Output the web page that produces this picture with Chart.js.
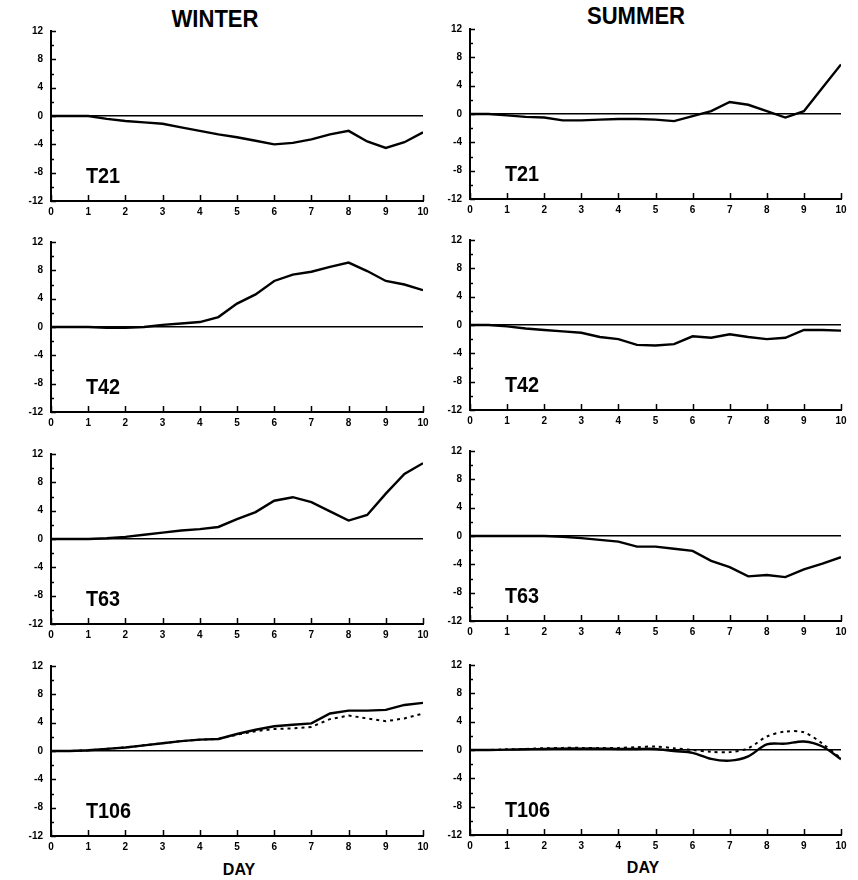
<!DOCTYPE html>
<html>
<head>
<meta charset="utf-8">
<script src="https://cdn.jsdelivr.net/npm/chart.js@4.4.1/dist/chart.umd.min.js"></script>
<style>
  html, body { margin: 0; padding: 0; background: #fff; }
  body { position: relative; width: 858px; height: 880px; overflow: hidden; font-family: "Liberation Sans", Arial, sans-serif; color: #000; }
  canvas { position: absolute; }
  .title { position: absolute; font-size: 24px; line-height: 24px; font-weight: bold; transform: translateX(-50%) scaleX(0.92); white-space: nowrap; }
  .day { position: absolute; font-size: 16px; line-height: 16px; font-weight: bold; transform: translateX(-50%); }
</style>
</head>
<body>
<div class="title" style="left:215px;top:7px">WINTER</div>
<div class="title" style="left:636px;top:4px">SUMMER</div>
<div class="day" style="left:239px;top:862px">DAY</div>
<div class="day" style="left:643px;top:860px">DAY</div>

<script>
/* ---- data (every half day) ---- */
const DAYS = [0, 0.5, 1, 1.5, 2, 2.5, 3, 3.5, 4, 4.5, 5, 5.5, 6, 6.5, 7, 7.5, 8, 8.5, 9, 9.5, 10];
const Y_TICKS = [-12, -8, -4, 0, 4, 8, 12];
const X_TICKS = [0, 1, 2, 3, 4, 5, 6, 7, 8, 9, 10];

const WINTER_T21 = [0, 0, 0, -0.4, -0.7, -0.9, -1.1, -1.6, -2.1, -2.6, -3.0, -3.5, -4.0, -3.8, -3.3, -2.6, -2.1, -3.6, -4.5, -3.7, -2.3];
const SUMMER_T21 = [0, 0, -0.2, -0.4, -0.5, -0.9, -0.9, -0.8, -0.7, -0.7, -0.8, -1.0, -0.3, 0.4, 1.7, 1.3, 0.4, -0.5, 0.4, 3.7, 7.0];
const WINTER_T42 = [0, 0, 0, -0.1, -0.1, 0, 0.3, 0.5, 0.7, 1.4, 3.3, 4.6, 6.5, 7.4, 7.8, 8.5, 9.1, 7.9, 6.5, 6.0, 5.2];
const SUMMER_T42 = [0, 0, -0.2, -0.5, -0.7, -0.9, -1.1, -1.7, -2.0, -2.8, -2.9, -2.7, -1.6, -1.8, -1.3, -1.7, -2.0, -1.8, -0.7, -0.7, -0.8];
const WINTER_T63 = [0, 0, 0, 0.1, 0.3, 0.6, 0.9, 1.2, 1.4, 1.7, 2.8, 3.8, 5.4, 5.9, 5.2, 3.9, 2.6, 3.4, 6.4, 9.2, 10.7];
const SUMMER_T63 = [0, 0, 0, 0, 0, -0.1, -0.3, -0.55, -0.8, -1.5, -1.5, -1.8, -2.1, -3.5, -4.4, -5.7, -5.5, -5.8, -4.7, -3.9, -3.0];
const WINTER_T106 = [0, 0, 0.1, 0.3, 0.5, 0.8, 1.1, 1.4, 1.6, 1.7, 2.4, 3.0, 3.5, 3.7, 3.9, 5.3, 5.7, 5.7, 5.8, 6.5, 6.8];
const WINTER_T106_DOT = [0, 0, 0.1, 0.3, 0.5, 0.8, 1.1, 1.4, 1.6, 1.7, 2.3, 2.8, 3.1, 3.2, 3.4, 4.5, 5.0, 4.6, 4.2, 4.6, 5.3];
const SUMMER_T106 = [0, 0, 0.05, 0.1, 0.15, 0.2, 0.2, 0.2, 0.15, 0.15, 0.15, -0.15, -0.4, -1.25, -1.5, -0.9, 0.8, 0.9, 1.2, 0.5, -1.3];
const SUMMER_T106_DOT = [0, 0, 0.1, 0.15, 0.25, 0.3, 0.3, 0.3, 0.3, 0.4, 0.5, 0.25, 0, -0.25, -0.3, 0.25, 1.9, 2.6, 2.5, 0.9, -1.2];

const PANELS = [
  { label: 'T21',  col: 0, row: 0, solid: WINTER_T21 },
  { label: 'T21',  col: 1, row: 0, solid: SUMMER_T21 },
  { label: 'T42',  col: 0, row: 1, solid: WINTER_T42 },
  { label: 'T42',  col: 1, row: 1, solid: SUMMER_T42 },
  { label: 'T63',  col: 0, row: 2, solid: WINTER_T63 },
  { label: 'T63',  col: 1, row: 2, solid: SUMMER_T63 },
  { label: 'T106', col: 0, row: 3, solid: WINTER_T106, dotted: WINTER_T106_DOT },
  { label: 'T106', col: 1, row: 3, solid: SUMMER_T106, dotted: SUMMER_T106_DOT, smooth: true },
];

/* ---- layout ---- */
const CANVAS_LEFT = [0, 432];
const CANVAS_W    = [440, 426];
const PLOT_LEFT   = [51, 470];
const PLOT_RIGHT  = [423, 841];
const PLOT_TOP    = [[29, 240, 452, 664], [27, 238, 449, 663]];
const PLOT_H = 172, PAD_TOP = 12, X_AXIS_H = 26;
const TICK_FONT = { family: '"Liberation Sans", Arial, sans-serif', size: 10, weight: 'bold' };

// inward tick marks + panel label
const innerTicks = {
  id: 'innerTicks',
  afterDraw(chart, args, opts) {
    const { ctx, chartArea: a, scales: { x, y } } = chart;
    ctx.save();
    ctx.strokeStyle = '#000';
    ctx.lineWidth = 1.5;
    ctx.beginPath();
    X_TICKS.forEach(d => {
      const px = Math.round(x.getPixelForValue(d)) + 0.5;
      ctx.moveTo(px, a.bottom);
      ctx.lineTo(px, a.bottom - 6);
    });
    for (let v = -12; v <= 12; v += 2) {
      const py = Math.round(y.getPixelForValue(v)) + 0.5;
      ctx.moveTo(a.left, py);
      ctx.lineTo(a.left + (v % 4 === 0 ? 5 : 3), py);
    }
    ctx.stroke();
    ctx.fillStyle = '#000';
    ctx.font = 'bold 22px "Liberation Sans", Arial, sans-serif';
    ctx.textBaseline = 'alphabetic';
    ctx.translate(a.left + 35, a.bottom - 18);
    ctx.scale(0.9, 1);
    ctx.fillText(opts.label, 0, 0);
    ctx.restore();
  }
};

function toPoints(vals) {
  return DAYS.map((d, i) => ({ x: d, y: vals[i] }));
}

function buildPanel(p) {
  const cv = document.createElement('canvas');
  const left = CANVAS_LEFT[p.col];
  const top = PLOT_TOP[p.col][p.row] - PAD_TOP;
  const w = CANVAS_W[p.col];
  const h = PAD_TOP + PLOT_H + X_AXIS_H;
  cv.width = w; cv.height = h;
  cv.style.left = left + 'px';
  cv.style.top = top + 'px';
  cv.style.width = w + 'px';
  cv.style.height = h + 'px';
  document.body.appendChild(cv);

  const datasets = [{
    data: toPoints(p.solid),
    borderColor: '#000',
    borderWidth: 2.4,
    pointRadius: 0,
    tension: p.smooth ? 0.3 : 0,
    fill: false,
  }];
  if (p.dotted) {
    datasets.push({
      data: toPoints(p.dotted),
      borderColor: '#000',
      borderWidth: 2,
      borderDash: [3, 4],
      pointRadius: 0,
      tension: p.smooth ? 0.3 : 0,
      fill: false,
    });
  }

  new Chart(cv, {
    type: 'line',
    data: { datasets },
    plugins: [innerTicks],
    options: {
      responsive: false,
      animation: false,
      devicePixelRatio: 1,
      layout: { padding: { top: PAD_TOP, right: left + w - PLOT_RIGHT[p.col], left: 0, bottom: 0 } },
      plugins: {
        legend: { display: false },
        tooltip: { enabled: false },
        innerTicks: { label: p.label },
      },
      scales: {
        x: {
          type: 'linear',
          min: 0, max: 10,
          afterBuildTicks: s => { s.ticks = X_TICKS.map(v => ({ value: v })); },
          afterFit: s => { s.height = X_AXIS_H; },
          grid: { display: false, drawTicks: false },
          border: { display: true, color: '#000', width: 2 },
          ticks: { color: '#000', font: TICK_FONT, padding: 5, maxRotation: 0, autoSkip: false },
        },
        y: {
          min: -12, max: 12,
          afterBuildTicks: s => { s.ticks = Y_TICKS.map(v => ({ value: v })); },
          afterFit: s => { s.width = PLOT_LEFT[p.col] - left; },
          grid: {
            drawTicks: false,
            color: c => (c.tick && c.tick.value === 0 ? '#000' : 'rgba(0,0,0,0)'),
            lineWidth: 1.5,
          },
          border: { display: true, color: '#000', width: 2 },
          ticks: { color: '#000', font: TICK_FONT, padding: 8, autoSkip: false },
        },
      },
    },
  });
}

PANELS.forEach(buildPanel);
</script>
</body>
</html>
